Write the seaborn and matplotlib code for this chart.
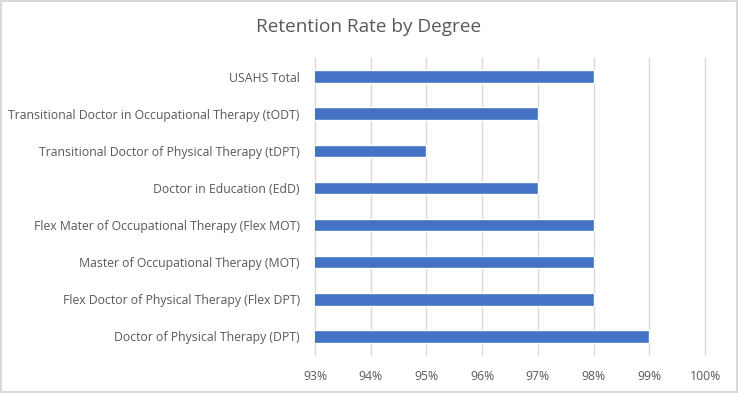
import matplotlib
matplotlib.use("Agg")
import matplotlib.pyplot as plt
import seaborn as sns
import pandas as pd
from matplotlib.ticker import FuncFormatter, MultipleLocator

categories = [
    "USAHS Total",
    "Transitional Doctor in Occupational Therapy (tODT)",
    "Transitional Doctor of Physical Therapy (tDPT)",
    "Doctor in Education (EdD)",
    "Flex Mater of Occupational Therapy (Flex MOT)",
    "Master of Occupational Therapy (MOT)",
    "Flex Doctor of Physical Therapy (Flex DPT)",
    "Doctor of Physical Therapy (DPT)",
]
retention = [98, 97, 95, 97, 98, 98, 98, 99]
title = "Retention Rate by Degree"

df = pd.DataFrame({"Degree": categories, "Retention": retention})

sns.set_theme(style="white")
plt.rcParams["font.family"] = ["Open Sans", "DejaVu Sans"]

fig = plt.figure(figsize=(7.38, 3.93), dpi=100)
ax = fig.add_axes([315/738, 1-355/393, (705-315)/738, (355-58)/393])

sns.barplot(data=df, x="Retention", y="Degree", orient="h", color="#4472C4",
            saturation=1, width=0.34, ax=ax)

ax.set_xlim(93, 100)
ax.set_ylim(7.5, -0.5)
ax.xaxis.set_major_locator(MultipleLocator(1))
ax.xaxis.set_major_formatter(FuncFormatter(lambda v, p: f"{v:.0f}%"))
ax.grid(axis="x", color="#d9d9d9", linewidth=1)
for gl in ax.get_xgridlines():
    gl.set_clip_on(False)
ax.set_axisbelow(True)
for s in ax.spines.values():
    s.set_visible(False)
ax.set_xlabel("")
ax.set_ylabel("")
ax.tick_params(axis="both", length=0, labelsize=8.8, labelcolor="#595959")
ax.tick_params(axis="x", pad=11)
ax.tick_params(axis="y", pad=11)

fig.text(0.5, 1-27/393, title, ha="center", va="center", fontsize=13.7, color="#595959")

fig.patches.append(plt.Rectangle((0.001, 0.002), 0.997, 0.996, transform=fig.transFigure,
                                 fill=False, edgecolor="#d9d9d9", linewidth=1.5))

fig.savefig("out.png", dpi=100)
